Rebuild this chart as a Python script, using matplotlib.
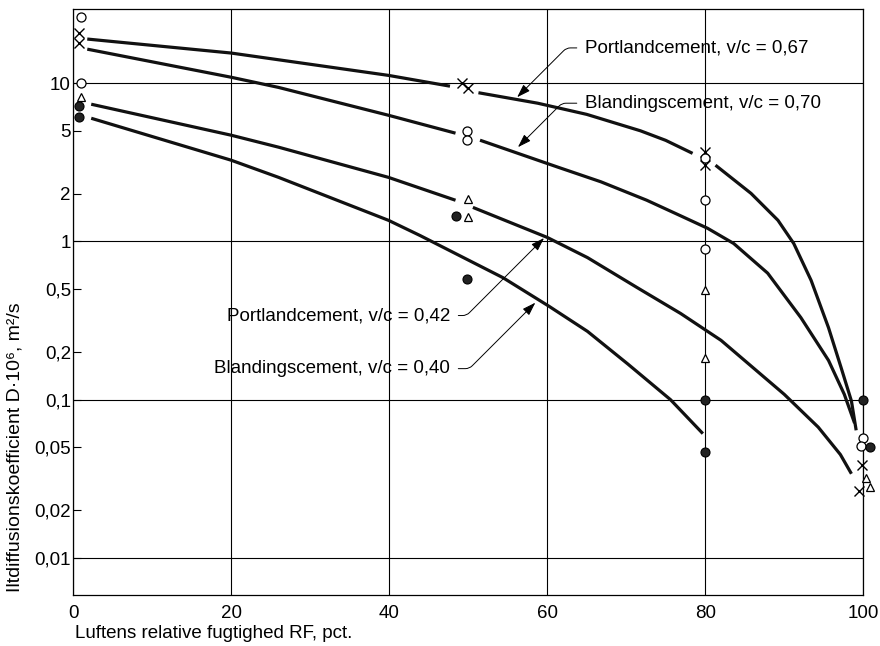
import numpy as np
import matplotlib
matplotlib.use('Agg')
import matplotlib.pyplot as plt
from matplotlib.ticker import FixedLocator, FixedFormatter

plt.rcParams['font.family'] = ['Liberation Sans', 'DejaVu Sans']
plt.rcParams['font.size'] = 13.5

nan = np.nan

# kurver (NaN = afbrydelse ved målepunkterne)
pc067_x = [1.8, 20, 39.9, 47.7, nan, 51.3, 58.8, 65.0, 71.8, 75.0, 78.4, nan, 81.3, 85.8, 89.2, 91.2, 93.4, 95.6, 97.2, 98.5, 99.1]
pc067_y = [19.0, 15.5, 11.2, 9.57, nan, 8.7, 7.47, 6.35, 5.0, 4.35, 3.6, nan, 3.03, 2.01, 1.36, 0.97, 0.567, 0.285, 0.159, 0.098, 0.064]

bc070_x = [1.8, 20, 26, 39.9, 48.4, nan, 51.5, 58.8, 61.4, 66.8, 72.6, 76.9, 80.3, 83.6, 87.9, 92.1, 95.6, 97.6, 98.9]
bc070_y = [16.4, 10.9, 9.4, 6.27, 4.83, nan, 4.36, 3.26, 2.94, 2.38, 1.82, 1.45, 1.21, 0.97, 0.63, 0.33, 0.177, 0.108, 0.071]

pc042_x = [2.3, 20, 26, 39.9, 48.4, nan, 50.6, 60.0, 65.1, 71.4, 76.9, 82.0, 86.0, 90.0, 94.3, 97.1, 98.5]
pc042_y = [7.36, 4.69, 3.94, 2.54, 1.82, nan, 1.64, 1.06, 0.79, 0.51, 0.35, 0.237, 0.16, 0.108, 0.067, 0.045, 0.034]

bc040_x = [2.3, 20, 26, 39.9, 43.9, 54.4, 60.2, 65.1, 70.2, 75.6, 79.7]
bc040_y = [6.0, 3.26, 2.54, 1.36, 1.09, 0.59, 0.39, 0.27, 0.168, 0.1, 0.061]

# målepunkter
pc067_px = [0.8, 0.8, 49.2, 50.0, 80, 80, 99.9, 99.4]
pc067_py = [20.7, 17.9, 10.0, 9.3, 3.66, 3.02, 0.0385, 0.0266]

bc070_px = [1.0, 1.0, 49.9, 49.9, 80, 80, 80, 100, 99.7]
bc070_py = [26.2, 10.0, 5.0, 4.36, 3.35, 1.82, 0.89, 0.057, 0.051]

pc042_px = [1.0, 50.0, 50.0, 80, 80, 100.4, 100.9]
pc042_py = [8.16, 1.84, 1.42, 0.49, 0.184, 0.0318, 0.028]

bc040_px = [0.8, 0.8, 48.4, 49.9, 80, 80, 100, 100.8]
bc040_py = [7.15, 6.09, 1.44, 0.58, 0.1, 0.047, 0.1, 0.050]

x_ticks = [0, 20, 40, 60, 80, 100]
y_major = [0.01, 0.1, 1, 10]
y_major_labels = ['0,01', '0,1', '1', '10']
y_minor = [0.02, 0.05, 0.2, 0.5, 2, 5]
y_minor_labels = ['0,02', '0,05', '0,2', '0,5', '2', '5']

fig = plt.figure(figsize=(8.8, 6.46), dpi=100)
ax = fig.add_axes([0.083, 0.079, 0.898, 0.907])

ax.set_yscale('log')
ax.set_xlim(0, 100)
ax.set_ylim(0.00583, 29.4)

ax.yaxis.set_major_locator(FixedLocator(y_major))
ax.yaxis.set_major_formatter(FixedFormatter(y_major_labels))
ax.yaxis.set_minor_locator(FixedLocator(y_minor))
ax.yaxis.set_minor_formatter(FixedFormatter(y_minor_labels))
ax.set_xticks(x_ticks)
ax.set_xticklabels([str(t) for t in x_ticks])

ax.tick_params(axis='y', which='both', direction='in', length=6, width=0.8, pad=1.5, labelsize=13.5)
ax.tick_params(axis='x', length=0, pad=7, labelsize=13.5)
ax.grid(True, which='major', color='black', linewidth=0.8)
for s in ax.spines.values():
    s.set_linewidth(0.9)

lw = 2.3
for xs, ys in [(pc067_x, pc067_y), (bc070_x, bc070_y), (pc042_x, pc042_y), (bc040_x, bc040_y)]:
    ax.plot(xs, ys, color='#111111', lw=lw, solid_capstyle='butt', solid_joinstyle='round', zorder=3)

ax.plot(pc067_px, pc067_py, ls='none', marker='x', ms=7, mew=1.0, color='black', clip_on=False, zorder=4)
ax.plot(bc070_px, bc070_py, ls='none', marker='o', ms=6.5, mew=0.9, mfc='white', mec='black', clip_on=False, zorder=4)
ax.plot(pc042_px, pc042_py, ls='none', marker='^', ms=6, mew=0.9, mfc='white', mec='black', clip_on=False, zorder=4)
ax.plot(bc040_px, bc040_py, ls='none', marker='o', ms=6.5, mew=0.8, mfc='#222222', mec='black', clip_on=False, zorder=4)

arrow = dict(arrowstyle='-|>,head_length=0.6,head_width=0.2', lw=0.7, color='black', shrinkA=4, shrinkB=0)

ax.annotate('Portlandcement, v/c = 0,67', xy=(56.2, 8.15), xytext=(64.8, 16.7),
            ha='left', va='center',
            arrowprops=dict(arrow, relpos=(0, 0.5), connectionstyle='angle,angleA=180,angleB=45,rad=4'))
ax.annotate('Blandingscement, v/c = 0,70', xy=(56.3, 3.94), xytext=(64.8, 7.47),
            ha='left', va='center',
            arrowprops=dict(arrow, relpos=(0, 0.5), connectionstyle='angle,angleA=180,angleB=45,rad=4'))
ax.annotate('Portlandcement, v/c = 0,42', xy=(59.6, 1.05), xytext=(47.7, 0.34),
            ha='right', va='center',
            arrowprops=dict(arrow, relpos=(1, 0.5), connectionstyle='angle,angleA=0,angleB=45,rad=4'))
ax.annotate('Blandingscement, v/c = 0,40', xy=(58.5, 0.41), xytext=(47.7, 0.157),
            ha='right', va='center',
            arrowprops=dict(arrow, relpos=(1, 0.5), connectionstyle='angle,angleA=0,angleB=45,rad=4'))

fig.text(75 / 880, 1 - 633 / 646, 'Luftens relative fugtighed RF, pct.', ha='left', va='center')
fig.text(15 / 880, 1 - 592 / 646, 'Iltdiffusionskoefficient D·10⁶, m²/s', rotation=90,
         ha='center', va='bottom', fontsize=14)

fig.savefig('out.png', dpi=100)
